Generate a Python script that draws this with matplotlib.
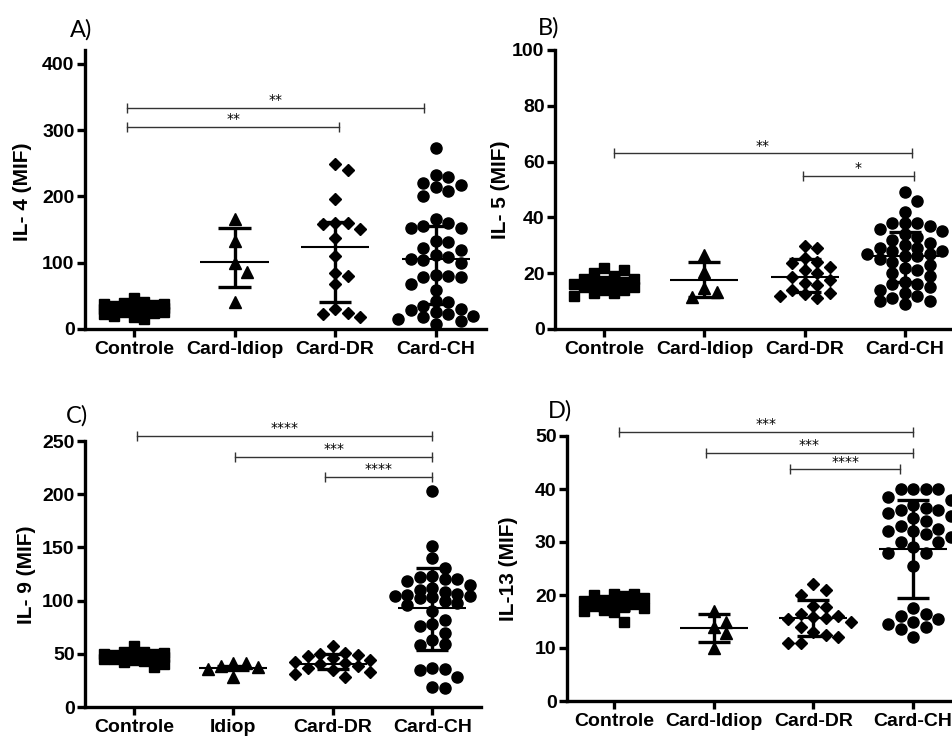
import numpy as np
import matplotlib
matplotlib.use("Agg")
import matplotlib.pyplot as plt

# ---------------- data ----------------
groups_main = ["Controle", "Card-Idiop", "Card-DR", "Card-CH"]
groups_c = ["Controle", "Idiop", "Card-DR", "Card-CH"]

# IL-4
il4_controle = [47, 40, 39, 38, 37, 36, 35, 34, 33, 32, 31, 30, 30, 29, 28, 27, 26, 25, 24, 22, 20, 18, 15]
il4_idiop = [166, 133, 100, 86, 40]
il4_dr = [249, 240, 196, 160, 160, 158, 151, 137, 110, 85, 80, 68, 30, 24, 22, 18]
il4_ch = [273, 233, 230, 220, 218, 214, 208, 200, 166, 160,
          155, 153, 153, 133, 131, 122, 119, 112, 108, 106,
          104, 100, 82, 80, 79, 79, 68, 59, 42, 40,
          35, 30, 28, 25, 22, 20, 18, 15, 12, 8]
il4_center = [29, 101, 124, 105]
il4_low = [24, 64, 40, 38]
il4_high = [34, 152, 162, 156]

# IL-5
il5_controle = [22, 21, 20, 19, 18, 18, 17, 17, 16, 16, 16, 15, 15, 14, 14, 13, 13, 12]
il5_idiop = [26.5, 20.5, 14.6, 13.4, 11.5]
il5_dr = [29.7, 29, 25.5, 24, 23.5, 22.3, 21, 20, 18.8, 17.5, 16.5, 15.8, 14, 13, 12.5, 12, 11]
il5_ch = [49, 46, 42, 38, 38, 38, 37, 36, 35, 34, 33, 32, 31, 30, 29, 29, 28, 28, 27, 27,
          26, 26, 25, 24, 23, 22, 21, 20, 19, 17, 16, 16, 15, 14, 13, 12, 11, 10, 10, 9]
il5_center = [16.5, 17.6, 18.8, 26.3]
il5_low = [14.5, 11.5, 13.3, 16.8]
il5_high = [18.5, 24.0, 25.0, 34.8]

# IL-9
il9_controle = [57, 52, 52, 51, 50, 50, 49, 48, 48, 47, 47, 46, 45, 45, 44, 43, 42, 40, 38]
il9_idiop = [41.5, 41.5, 38.5, 37.5, 36, 28.5]
il9_dr = [57, 51, 50, 49, 48, 46, 44, 42, 41, 40, 39, 37, 35, 33, 31, 28]
il9_ch = [203, 151, 140, 131, 123, 122, 120, 120, 118, 115, 112, 110, 108, 106, 105, 104, 104, 103,
          102, 100, 98, 96, 90, 82, 78, 76, 70, 63, 59, 58, 37, 36, 35, 28, 19, 18]
il9_center = [47, 37, 40.5, 93.5]
il9_low = [43, 35, 36, 54]
il9_high = [51, 39, 50, 131]

# IL-13
il13_controle = [20.2, 20.1, 20, 19.8, 19.5, 19, 18.8, 18.5, 18.3, 18, 17.8, 17.5, 17.2, 17, 16.8, 15]
il13_idiop = [17, 15, 14, 12.8, 10]
il13_dr = [22, 21, 20, 18, 17.8, 16.5, 16, 15.8, 15.7, 15.5, 15, 14, 13, 12.5, 12, 11, 11]
il13_ch = [40, 40, 40, 40, 38.5, 38, 37, 36.5, 36, 36, 35.5, 35, 34.5, 34, 33, 32.5, 32, 32, 31.5, 31,
           30, 30, 29, 28, 28, 25.5, 17.5, 16.5, 16, 15.5, 15, 14.5, 14, 13.5, 12]
il13_center = [18.4, 13.8, 15.7, 28.6]
il13_low = [17.2, 11.2, 12.3, 19.5]
il13_high = [19.5, 16.5, 19.1, 37.9]

# significance brackets
sigA_x1 = [-0.07, -0.07]; sigA_x2 = [2.88, 2.04]; sigA_y = [334, 305]; sigA_lab = ["**", "**"]
sigB_x1 = [0.10, 1.98]; sigB_x2 = [3.07, 3.09]; sigB_y = [63, 55]; sigB_lab = ["**", "*"]
sigC_x1 = [0.03, 1.02, 1.92]; sigC_x2 = [3.0, 3.0, 3.0]; sigC_y = [255, 235, 216]; sigC_lab = ["****", "***", "****"]
sigD_x1 = [0.05, 0.92, 1.77]; sigD_x2 = [3.0, 3.0, 2.87]; sigD_y = [50.8, 46.8, 43.7]; sigD_lab = ["***", "***", "****"]

# ---------------- figure ----------------
W, H = 952, 738
fig = plt.figure(figsize=(W / 100, H / 100), dpi=100)
TICKFONT = dict(family="Liberation Sans", weight="bold", size=14)


def make_axes(left, right, top, bottom):
    return fig.add_axes([left / W, 1 - bottom / H, (right - left) / W, (bottom - top) / H])


def swarm_x(ax, x0, values, step_px=12.5, dmin_px=11.0, maxk=3):
    values = np.asarray(values, float)
    tr = ax.transData
    ys = tr.transform(np.column_stack([np.full(len(values), x0), values]))[:, 1]
    ppu = tr.transform([[1, 0]])[0, 0] - tr.transform([[0, 0]])[0, 0]
    order = np.argsort(-values, kind="stable")
    cands = [0] + [s * k for k in range(1, maxk + 1) for s in (1, -1)]
    placed = []
    offs = np.zeros(len(values))
    for i in order:
        chosen = None
        bestd, bestx = -1, 0
        for k in cands:
            xo = k * step_px
            d = min([np.hypot(xo - px, ys[i] - py) for px, py in placed], default=1e9)
            if d >= dmin_px:
                chosen = xo
                break
            if d > bestd:
                bestd, bestx = d, xo
        if chosen is None:
            chosen = bestx
        offs[i] = chosen
        placed.append((chosen, ys[i]))
    return x0 + offs / ppu


def panel(ax, data, markers, msizes, center, low, high, labels, ylim, yticks,
          xlim, sig, ylabel, ylabel_px, plabel, plabel_px):
    ax.set_xlim(*xlim)
    ax.set_ylim(*ylim)
    for s in ("top", "right"):
        ax.spines[s].set_visible(False)
    for s in ("left", "bottom"):
        ax.spines[s].set_linewidth(2.4)
    ax.set_yticks(yticks)
    ax.set_xticks(range(len(labels)))
    ax.set_xticklabels(labels, **TICKFONT)
    ax.set_yticklabels([str(t) for t in yticks], **TICKFONT)
    ax.tick_params(axis="y", length=6, width=2.4, pad=1.5)
    ax.tick_params(axis="x", length=6, width=2.4, pad=3)
    for i, vals in enumerate(data):
        step = 10.0 if i == 0 else 12.5
        xs = swarm_x(ax, i, vals, step_px=step)
        ax.plot(xs, vals, ls="none", marker=markers[i], ms=msizes[i], color="black",
                mec="black", zorder=3, clip_on=False)
        ax.plot([i - 0.34, i + 0.34], [center[i], center[i]], color="black", lw=1.5, zorder=4,
                solid_capstyle="butt")
        ax.plot([i, i], [low[i], high[i]], color="black", lw=2.4, zorder=4, solid_capstyle="butt")
        for v in (low[i], high[i]):
            ax.plot([i - 0.16, i + 0.16], [v, v], color="black", lw=2.4, zorder=4,
                    solid_capstyle="butt")
    x1s, x2s, ys, labs = sig
    for x1, x2, y, lab in zip(x1s, x2s, ys, labs):
        ax.plot([x1, x2], [y, y], color="#333333", lw=1.0, clip_on=False)
        ax.plot([x1, x2], [y, y], ls="none", marker="|", ms=7, mew=1.0, color="#333333",
                clip_on=False)
        ax.annotate(lab, xy=((x1 + x2) / 2, y), xytext=(0, 0.5), textcoords="offset points",
                    ha="center", va="bottom", fontsize=10, family="DejaVu Sans",
                    annotation_clip=False)
    fig.text(ylabel_px[0] / W, 1 - ylabel_px[1] / H, ylabel, rotation=90, ha="center",
             va="center", family="Liberation Sans", weight="bold", fontsize=15)
    fig.text(plabel_px[0] / W, 1 - plabel_px[1] / H, plabel, ha="center", va="center",
             family="Lato", fontsize=17)


mk = ["s", "^", "D", "o"]
ms = [7.5, 9, 6.5, 8]

axA = make_axes(85, 486, 50, 329)
panel(axA, [il4_controle, il4_idiop, il4_dr, il4_ch], mk, ms, il4_center, il4_low, il4_high,
      groups_main, (0, 421), [0, 100, 200, 300, 400], (-0.487, 3.5),
      (sigA_x1, sigA_x2, sigA_y, sigA_lab), "IL- 4 (MIF)", (23, 192), "A)", (81, 30))

axB = make_axes(555, 952, 50, 329)
panel(axB, [il5_controle, il5_idiop, il5_dr, il5_ch], mk, ms, il5_center, il5_low, il5_high,
      groups_main, (0, 100), [0, 20, 40, 60, 80, 100], (-0.49, 3.47),
      (sigB_x1, sigB_x2, sigB_y, sigB_lab), "IL- 5 (MIF)", (501, 190), "B)", (549, 28))

axC = make_axes(85, 481, 441, 707)
panel(axC, [il9_controle, il9_idiop, il9_dr, il9_ch], mk, ms, il9_center, il9_low, il9_high,
      groups_c, (0, 250), [0, 50, 100, 150, 200, 250], (-0.49, 3.49),
      (sigC_x1, sigC_x2, sigC_y, sigC_lab), "IL- 9 (MIF)", (27, 575), "C)", (77, 416))

axD = make_axes(567, 952, 436, 701)
panel(axD, [il13_controle, il13_idiop, il13_dr, il13_ch], mk, ms, il13_center, il13_low, il13_high,
      groups_main, (0, 50), [0, 10, 20, 30, 40, 50], (-0.47, 3.39),
      (sigD_x1, sigD_x2, sigD_y, sigD_lab), "IL-13 (MIF)", (508, 569), "D)", (560, 411))

fig.savefig("out.png", dpi=100)
